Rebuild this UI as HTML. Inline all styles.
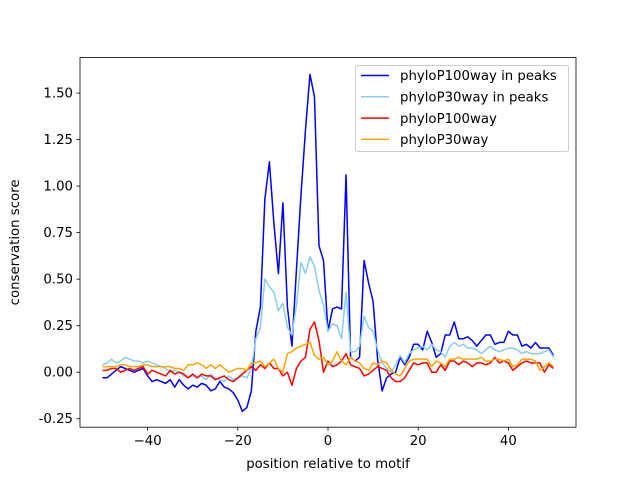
<!DOCTYPE html>
<html><head><meta charset="utf-8"><style>
html,body{margin:0;padding:0;background:#fff;}
svg{display:block;font-family:"DejaVu Sans","Liberation Sans",sans-serif;}
</style></head><body>
<svg id="chart" width="640" height="480" viewBox="0 0 640 480"></svg>
<script>
const xStart = -50;
const bluePeaks = [-0.03,-0.03,-0.01,0.01,0.03,0.02,0.01,0.00,0.01,0.02,-0.02,-0.05,-0.04,-0.05,-0.06,-0.04,-0.08,-0.04,-0.07,-0.09,-0.07,-0.08,-0.06,-0.07,-0.10,-0.09,-0.05,-0.08,-0.09,-0.11,-0.15,
 -0.21,-0.19,-0.10,0.22,0.35,0.93,1.13,0.80,0.53,0.91,0.35,0.14,0.55,0.95,1.30,1.60,1.48,0.68,0.60,
 0.22,0.34,0.35,0.34,1.06,0.08,0.06,0.08,0.60,0.48,0.38,0.07,-0.10,-0.03,-0.01,0.00,0.08,0.04,0.08,0.15,
 0.15,0.12,0.22,0.16,0.08,0.10,0.20,0.20,0.27,0.18,0.18,0.19,0.17,0.14,0.17,0.20,0.20,0.15,0.16,0.16,
 0.22,0.20,0.20,0.14,0.15,0.13,0.16,0.13,0.13,0.13,0.09];
const lightPeaks = [0.04,0.05,0.07,0.05,0.06,0.08,0.07,0.06,0.06,0.05,0.06,0.05,0.04,0.03,0.02,0.00,0.01,0.00,-0.02,-0.03,-0.02,-0.03,-0.02,-0.04,-0.01,-0.03,-0.04,-0.05,-0.02,-0.04,-0.03,
 -0.02,-0.03,0.02,0.18,0.24,0.50,0.46,0.43,0.33,0.37,0.24,0.20,0.36,0.59,0.53,0.62,0.57,0.44,0.36,
 0.22,0.26,0.25,0.18,0.43,0.11,0.11,0.14,0.30,0.24,0.22,0.12,0.05,0.02,0.00,0.04,0.09,0.05,0.10,0.12,
 0.13,0.14,0.12,0.15,0.12,0.11,0.08,0.14,0.16,0.14,0.15,0.13,0.13,0.12,0.10,0.12,0.14,0.12,0.11,0.12,
 0.13,0.13,0.12,0.10,0.11,0.10,0.10,0.10,0.11,0.12,0.08];
const red100 = [0.01,0.01,0.02,0.02,0.00,0.01,0.02,0.01,0.02,0.03,-0.01,0.01,0.00,-0.01,-0.02,0.01,-0.01,0.00,-0.01,-0.03,-0.01,-0.03,-0.01,-0.02,-0.02,-0.04,-0.03,-0.02,-0.04,-0.05,-0.03,
 -0.01,0.01,0.03,0.01,0.04,0.02,0.05,0.02,0.02,-0.02,0.00,-0.07,0.02,0.06,0.08,0.23,0.27,0.17,0.00,
 0.06,0.03,0.04,0.06,0.10,0.04,0.03,0.02,-0.02,-0.01,0.01,0.03,0.02,0.01,-0.03,-0.05,-0.05,-0.03,0.01,0.05,
 0.04,0.05,0.05,0.00,0.00,0.04,0.01,0.06,0.06,0.04,0.06,0.05,0.03,0.05,0.05,0.04,0.05,0.08,0.05,0.06,
 0.05,0.01,0.03,0.05,0.06,0.05,0.05,0.05,0.00,0.04,0.02];
const orange30 = [0.03,0.03,0.03,0.03,0.04,0.04,0.03,0.03,0.03,0.04,0.04,0.03,0.03,0.03,0.03,0.03,0.02,0.02,0.01,0.04,0.04,0.05,0.04,0.02,0.04,0.02,0.04,0.02,0.00,0.01,0.02,
 0.02,0.01,0.05,0.05,0.06,0.03,0.05,0.07,0.02,0.00,0.10,0.11,0.13,0.14,0.15,0.16,0.09,0.07,0.08,
 0.04,0.06,0.11,0.06,0.04,0.08,0.06,0.05,0.02,0.01,0.05,0.04,0.06,0.05,0.01,-0.01,-0.02,0.02,0.06,0.07,
 0.07,0.07,0.07,0.03,0.06,0.05,0.03,0.07,0.07,0.08,0.07,0.07,0.07,0.07,0.08,0.06,0.06,0.07,0.07,0.06,
 0.07,0.03,0.04,0.07,0.07,0.07,0.06,0.01,0.03,0.05,0.03];
const yTicks = [-0.25,0,0.25,0.5,0.75,1.0,1.25,1.5];
const xTicks = [-40,-20,0,20,40];
const seriesNames = ["phyloP100way in peaks","phyloP30way in peaks","phyloP100way","phyloP30way"];

const NS="http://www.w3.org/2000/svg";
const svg=document.getElementById('chart');
const L=80,R=576,T=57.6,B=427.2;
const xMin=-55,xMax=55,yMin=-0.2955,yMax=1.6905;
const sx=v=>L+(v-xMin)/(xMax-xMin)*(R-L);
const sy=v=>B-(v-yMin)/(yMax-yMin)*(B-T);
function mk(tag,attrs,parent){const e=document.createElementNS(NS,tag);for(const k in attrs)e.setAttribute(k,attrs[k]);(parent||svg).appendChild(e);return e;}

const series=[[bluePeaks,"#0000ff"],[lightPeaks,"#87ceeb"],[red100,"#ff0000"],[orange30,"#ffa500"]];
const plot=mk('g',{});


series.forEach((s,i)=>{
  const pts=s[0].map((v,j)=>sx(xStart+j).toFixed(2)+','+sy(v).toFixed(2)).join(' ');
  const pl=mk('polyline',{points:pts,fill:'none',stroke:s[1],'stroke-width':1.5,'stroke-linejoin':'round'},plot);
  
  
});

const frame=mk('rect',{x:L,y:T,width:R-L,height:B-T,fill:'none',stroke:'#000','stroke-width':0.8});



yTicks.forEach(v=>{
  const y=sy(v);
  mk('line',{x1:L-3.5,x2:L,y1:y,y2:y,stroke:'#000','stroke-width':0.8});
  const t=mk('text',{x:L-7,y:y+4.5,'text-anchor':'end','font-size':'13.3px',fill:'#000'});
  t.textContent=v.toFixed(2);
  
  
});
xTicks.forEach(v=>{
  const x=sx(v);
  mk('line',{x1:x,x2:x,y1:B,y2:B+3.5,stroke:'#000','stroke-width':0.8});
  const t=mk('text',{x:x,y:B+18,'text-anchor':'middle','font-size':'13.3px',fill:'#000'});
  t.textContent=v<0?'\u2212'+Math.abs(v):String(v);
  
  
});
const xl=mk('text',{x:(L+R)/2,y:468,'text-anchor':'middle','font-size':'13.3px',fill:'#000'});
xl.textContent='position relative to motif';


const yl=mk('text',{x:0,y:0,'text-anchor':'middle','font-size':'13.3px',fill:'#000',transform:'translate(19,'+((T+B)/2)+') rotate(-90)'});
yl.textContent='conservation score';



const lg=mk('g',{});


mk('rect',{x:355.5,y:65.5,width:213,height:86,rx:2,fill:'#fff','fill-opacity':0.8,stroke:'#ccc','stroke-width':1},lg);
series.forEach((s,i)=>{
  const y=75.5+i*21.3;
  const g=mk('g',{},lg);
  
  
  mk('line',{x1:361,x2:389,y1:y,y2:y,stroke:s[1],'stroke-width':1.5},g);
  const t=mk('text',{x:400,y:y+4.7,'font-size':'13.3px',fill:'#000'},g);
  t.textContent=seriesNames[i];
});
</script>
</body></html>
